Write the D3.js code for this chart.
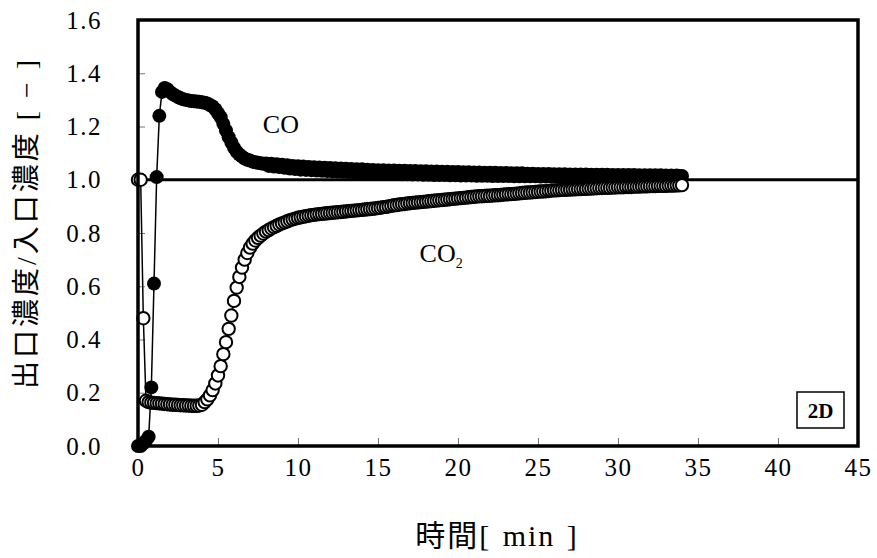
<!DOCTYPE html>
<html>
<head>
<meta charset="utf-8">
<style>
    body { margin: 0; background: #fff; }
    svg { display: block; }
</style>
</head>
<body>
<svg width="877" height="558"></svg>

<script src="https://d3js.org/d3.v7.min.js"></script>
<script>
    // samples every 10 s
    const sampleStep = 1 / 6;

    // outlet / inlet concentration, CO (filled markers), one row per minute
    const coValues = [
        0.000, 0.000, 0.010, 0.020, 0.035, 0.220,
        0.610, 1.010, 1.240, 1.330, 1.345, 1.340,
        1.330, 1.322, 1.316, 1.311, 1.306, 1.302,
        1.300, 1.298, 1.296, 1.295, 1.294, 1.293,
        1.291, 1.289, 1.286, 1.281, 1.275, 1.265,
        1.250, 1.235, 1.210, 1.185, 1.160, 1.140,
        1.120, 1.105, 1.095, 1.087, 1.080, 1.075,
        1.072, 1.068, 1.066, 1.064, 1.062, 1.060,
        1.061, 1.052, 1.060, 1.050, 1.058, 1.048,
        1.056, 1.045, 1.054, 1.042, 1.052, 1.040,
        1.051, 1.038, 1.050, 1.037, 1.048, 1.036,
        1.047, 1.035, 1.046, 1.034, 1.045, 1.033,
        1.044, 1.032, 1.043, 1.031, 1.042, 1.030,
        1.041, 1.029, 1.040, 1.028, 1.039, 1.027,
        1.039, 1.026, 1.038, 1.025, 1.037, 1.024,
        1.036, 1.024, 1.036, 1.023, 1.035, 1.022,
        1.035, 1.022, 1.034, 1.021, 1.034, 1.021,
        1.033, 1.020, 1.033, 1.020, 1.032, 1.019,
        1.032, 1.019, 1.031, 1.018, 1.031, 1.018,
        1.030, 1.018, 1.030, 1.017, 1.029, 1.017,
        1.029, 1.016, 1.028, 1.016, 1.028, 1.016,
        1.027, 1.015, 1.027, 1.015, 1.026, 1.015,
        1.026, 1.014, 1.026, 1.014, 1.025, 1.014,
        1.025, 1.014, 1.024, 1.013, 1.024, 1.013,
        1.024, 1.013, 1.023, 1.013, 1.023, 1.013,
        1.022, 1.012, 1.022, 1.012, 1.022, 1.012,
        1.021, 1.012, 1.021, 1.012, 1.021, 1.011,
        1.020, 1.011, 1.020, 1.011, 1.020, 1.011,
        1.020, 1.011, 1.019, 1.011, 1.019, 1.011,
        1.019, 1.010, 1.019, 1.010, 1.018, 1.010,
        1.018, 1.010, 1.018, 1.010, 1.018, 1.010,
        1.018, 1.010, 1.017, 1.010, 1.017, 1.010,
        1.017, 1.010, 1.017, 1.010, 1.017, 1.010,
        1.016, 1.010, 1.016, 1.010, 1.016, 1.013,
        1.014
    ];

    // CO2 (open markers)
    const co2Values = [
        1.000, 1.000, 0.480, 0.170, 0.165, 0.163,
        0.162, 0.161, 0.160, 0.159, 0.158, 0.157,
        0.156, 0.155, 0.155, 0.154, 0.153, 0.153,
        0.152, 0.152, 0.151, 0.151, 0.151, 0.152,
        0.155, 0.165, 0.175, 0.190, 0.210, 0.235,
        0.265, 0.300, 0.345, 0.390, 0.440, 0.490,
        0.545, 0.595, 0.635, 0.670, 0.700, 0.725,
        0.745, 0.760, 0.772, 0.782, 0.790, 0.798,
        0.805, 0.811, 0.817, 0.822, 0.827, 0.832,
        0.836, 0.840, 0.844, 0.848, 0.851, 0.854,
        0.857, 0.859, 0.861, 0.863, 0.865, 0.867,
        0.868, 0.870, 0.871, 0.872, 0.873, 0.874,
        0.875, 0.876, 0.877, 0.878, 0.879, 0.880,
        0.881, 0.882, 0.883, 0.884, 0.885, 0.886,
        0.887, 0.888, 0.889, 0.890, 0.891, 0.892,
        0.894, 0.895, 0.897, 0.898, 0.900, 0.902,
        0.904, 0.905, 0.907, 0.908, 0.909, 0.911,
        0.912, 0.913, 0.914, 0.915, 0.916, 0.917,
        0.918, 0.919, 0.920, 0.921, 0.922, 0.923,
        0.924, 0.925, 0.926, 0.927, 0.928, 0.929,
        0.930, 0.931, 0.932, 0.933, 0.934, 0.935,
        0.936, 0.937, 0.938, 0.938, 0.939, 0.940,
        0.940, 0.941, 0.942, 0.942, 0.943, 0.944,
        0.945, 0.946, 0.946, 0.947, 0.948, 0.949,
        0.950, 0.951, 0.952, 0.952, 0.953, 0.954,
        0.955, 0.956, 0.956, 0.957, 0.958, 0.959,
        0.960, 0.960, 0.961, 0.962, 0.962, 0.963,
        0.963, 0.964, 0.964, 0.965, 0.965, 0.966,
        0.966, 0.967, 0.967, 0.968, 0.968, 0.969,
        0.969, 0.970, 0.970, 0.970, 0.971, 0.971,
        0.972, 0.972, 0.972, 0.973, 0.973, 0.973,
        0.974, 0.974, 0.974, 0.975, 0.975, 0.975,
        0.976, 0.976, 0.976, 0.977, 0.977, 0.977,
        0.977, 0.978, 0.978, 0.978, 0.979, 0.979,
        0.980
    ];

    const xTicks = [0, 5, 10, 15, 20, 25, 30, 35, 40, 45];
    const yTicks = [0, 0.2, 0.4, 0.6, 0.8, 1.0, 1.2, 1.4, 1.6];
    const refLevel = 1.0;

    const serif = "'Liberation Serif', 'Times New Roman', serif";
    const jpFont = "'Liberation Serif', 'Noto Sans CJK JP', serif";

    let margin = { top: 20, right: 19, bottom: 112, left: 138 };
    let width = 877 - margin.left - margin.right;
    let height = 558 - margin.top - margin.bottom;

    let svg = d3.select("svg");
    let g = svg.append("g").attr("transform", `translate(${margin.left},${margin.top})`);

    let x = d3.scaleLinear().domain([0, 45]).range([0, width]);
    let y = d3.scaleLinear().domain([0, 1.6]).range([height, 0]);

    let co = coValues.map((v, i) => ({ t: i * sampleStep, v: v }));
    let co2 = co2Values.map((v, i) => ({ t: i * sampleStep, v: v }));

    // axes, ticks pointing inwards
    let xAxis = g.append("g")
        .attr("transform", `translate(0,${height})`)
        .call(d3.axisBottom(x).tickValues(xTicks).tickSize(-8).tickPadding(12).tickFormat(d3.format("d")));
    let yAxis = g.append("g")
        .call(d3.axisLeft(y).tickValues(yTicks).tickSize(-7).tickPadding(36).tickFormat(d3.format(".1f")));

    [xAxis, yAxis].forEach(ax => {
        ax.select(".domain").remove();
        ax.attr("font-family", null).attr("font-size", null);
        ax.selectAll(".tick line").attr("stroke", "#777").attr("stroke-width", 1);
        ax.selectAll(".tick text")
            .attr("fill", "#000")
            .style("font-family", serif)
            .style("font-size", "25px")
            .style("letter-spacing", "1.5px");
    });

    // reference line at 1.0
    g.append("line")
        .attr("x1", x(0)).attr("x2", x(45))
        .attr("y1", y(refLevel)).attr("y2", y(refLevel))
        .style("stroke", "#000")
        .style("stroke-width", 3);

    let line = d3.line().x(d => x(d.t)).y(d => y(d.v));

    // CO
    g.append("path")
        .attr("d", line(co))
        .style("fill", "none")
        .style("stroke", "#000")
        .style("stroke-width", 1.5);
    g.selectAll(".co")
        .data(co)
        .join("circle")
        .attr("class", "co")
        .attr("cx", d => x(d.t))
        .attr("cy", d => y(d.v))
        .attr("r", 7)
        .style("fill", "#000");

    // CO2
    g.append("path")
        .attr("d", line(co2))
        .style("fill", "none")
        .style("stroke", "#000")
        .style("stroke-width", 1.5);
    g.selectAll(".co2")
        .data(co2)
        .join("circle")
        .attr("class", "co2")
        .attr("cx", d => x(d.t))
        .attr("cy", d => y(d.v))
        .attr("r", 6.2)
        .style("fill", "#fff")
        .style("stroke", "#000")
        .style("stroke-width", 2);

    // frame
    g.append("rect")
        .attr("x", 0).attr("y", 0)
        .attr("width", width).attr("height", height)
        .style("fill", "none")
        .style("stroke", "#000")
        .style("stroke-width", 3.5);

    // series labels
    g.append("text")
        .attr("x", x(7.8)).attr("y", y(1.175))
        .style("font-family", serif)
        .style("font-size", "26px")
        .text("CO");
    let co2Label = g.append("text")
        .attr("x", x(17.6)).attr("y", y(0.69))
        .style("font-family", serif)
        .style("font-size", "26px");
    co2Label.append("tspan").text("CO");
    co2Label.append("tspan").attr("dy", 6).style("font-size", "14px").text("2");

    // 2D box
    g.append("rect")
        .attr("x", 659).attr("y", 372)
        .attr("width", 47).attr("height", 36)
        .style("fill", "#fff")
        .style("stroke", "#000")
        .style("stroke-width", 1.5);
    g.append("text")
        .attr("x", 682.5).attr("y", 398)
        .attr("text-anchor", "middle")
        .style("font-family", serif)
        .style("font-size", "21px")
        .style("font-weight", "bold")
        .text("2D");

    // axis titles
    svg.append("text")
        .attr("x", 497)
        .attr("y", 546)
        .attr("text-anchor", "middle")
        .style("font-family", jpFont)
        .style("font-size", "30px")
        .style("letter-spacing", "2px")
        .style("word-spacing", "2px")
        .text("時間[ min ]");

    svg.append("text")
        .attr("transform", `translate(36,${margin.top + height / 2 - 10}) rotate(-90)`)
        .attr("text-anchor", "middle")
        .style("font-family", jpFont)
        .style("font-size", "28px")
        .style("letter-spacing", "3px")
        .text("出口濃度/入口濃度 [ − ]");
</script>
</body>
</html>
